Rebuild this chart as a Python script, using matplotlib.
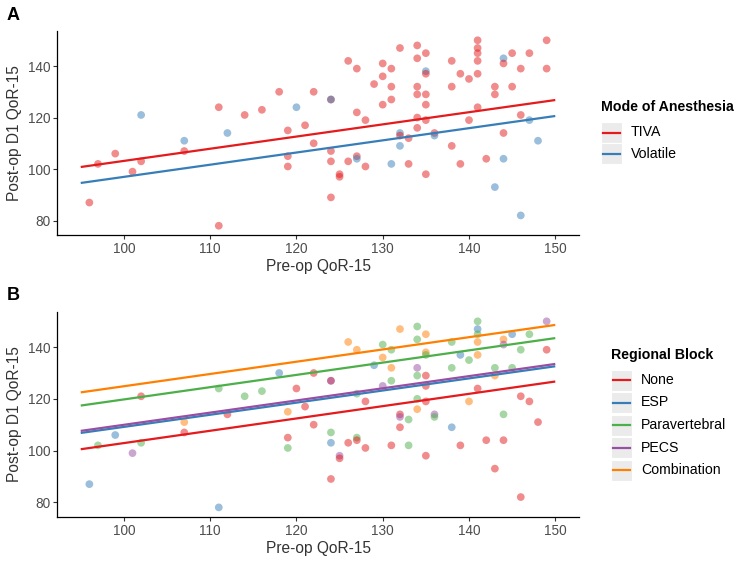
import matplotlib
matplotlib.use("Agg")
import matplotlib.pyplot as plt
from matplotlib.patches import Rectangle
from matplotlib.lines import Line2D
import numpy as np

plt.rcParams['font.family'] = ['Liberation Sans', 'DejaVu Sans']

# ---------------- data ----------------
pre_op = [96, 97, 99, 101, 102, 102, 107, 107, 111, 111, 112, 114, 116, 118,
          119, 119, 119, 120, 121, 122, 122, 124, 124, 124, 124, 124, 125, 125,
          126, 126, 127, 127, 127, 127, 128, 128, 129, 130, 130, 130, 131, 131,
          131, 131, 132, 132, 132, 132, 133, 133, 134, 134, 134, 134, 134, 134,
          135, 135, 135, 135, 135, 135, 135, 136, 136, 138, 138, 138, 139, 139,
          140, 140, 141, 141, 141, 141, 141, 141, 142, 143, 143, 143, 144, 144,
          144, 144, 145, 145, 146, 146, 146, 147, 147, 148, 149, 149]
post_op = [87, 102, 106, 99, 121, 103, 111, 107, 124, 78, 114, 121, 123, 130,
           115, 105, 101, 124, 117, 130, 110, 127, 127, 107, 103, 89, 98, 97,
           142, 103, 139, 122, 105, 104, 119, 101, 133, 141, 136, 125, 139, 132,
           127, 102, 147, 114, 113, 109, 112, 102, 148, 143, 132, 129, 120, 116,
           145, 138, 137, 129, 125, 119, 98, 114, 113, 142, 132, 109, 137, 102,
           135, 119, 150, 147, 145, 142, 137, 124, 104, 132, 129, 93, 143, 141,
           114, 104, 145, 132, 139, 121, 82, 145, 119, 111, 150, 139]
anesthesia = ['TIVA', 'TIVA', 'TIVA', 'TIVA', 'Volatile', 'TIVA', 'Volatile', 'TIVA',
              'TIVA', 'TIVA', 'Volatile', 'TIVA', 'TIVA', 'TIVA', 'TIVA', 'TIVA',
              'TIVA', 'Volatile', 'TIVA', 'TIVA', 'TIVA', 'TIVA', 'Volatile', 'TIVA',
              'TIVA', 'TIVA', 'TIVA', 'TIVA', 'TIVA', 'TIVA', 'TIVA', 'TIVA',
              'TIVA', 'Volatile', 'TIVA', 'TIVA', 'TIVA', 'TIVA', 'TIVA', 'TIVA',
              'TIVA', 'TIVA', 'TIVA', 'Volatile', 'TIVA', 'Volatile', 'TIVA', 'Volatile',
              'TIVA', 'TIVA', 'TIVA', 'TIVA', 'TIVA', 'TIVA', 'TIVA', 'TIVA',
              'TIVA', 'Volatile', 'TIVA', 'TIVA', 'TIVA', 'TIVA', 'TIVA', 'TIVA',
              'Volatile', 'TIVA', 'TIVA', 'TIVA', 'TIVA', 'TIVA', 'TIVA', 'TIVA',
              'TIVA', 'TIVA', 'TIVA', 'TIVA', 'TIVA', 'TIVA', 'TIVA', 'TIVA',
              'TIVA', 'Volatile', 'Volatile', 'TIVA', 'TIVA', 'Volatile', 'TIVA', 'TIVA',
              'TIVA', 'TIVA', 'Volatile', 'TIVA', 'Volatile', 'Volatile', 'TIVA', 'TIVA']
block = ['ESP', 'Paravertebral', 'ESP', 'PECS', 'None', 'Paravertebral', 'Combination', 'None',
         'Paravertebral', 'ESP', 'None', 'Paravertebral', 'Paravertebral', 'ESP', 'Combination', 'None',
         'Paravertebral', 'None', 'None', 'None', 'None', 'None', 'PECS', 'Paravertebral',
         'ESP', 'None', 'PECS', 'None', 'Combination', 'None', 'Combination', 'Paravertebral',
         'Paravertebral', 'None', 'None', 'None', 'ESP', 'Paravertebral', 'Combination', 'PECS',
         'Paravertebral', 'Combination', 'Paravertebral', 'None', 'Combination', 'None', 'PECS', 'None',
         'Paravertebral', 'Paravertebral', 'Paravertebral', 'Paravertebral', 'PECS', 'Paravertebral', 'Paravertebral', 'Combination',
         'Combination', 'Combination', 'Paravertebral', 'None', 'None', 'None', 'None', 'PECS',
         'Paravertebral', 'Paravertebral', 'Paravertebral', 'ESP', 'ESP', 'None', 'Paravertebral', 'Combination',
         'Paravertebral', 'ESP', 'Paravertebral', 'Combination', 'Combination', 'None', 'None', 'Paravertebral',
         'Combination', 'None', 'Combination', 'PECS', 'Paravertebral', 'None', 'ESP', 'Paravertebral',
         'Paravertebral', 'None', 'None', 'Paravertebral', 'None', 'None', 'PECS', 'None']

anesthesia_levels = ['TIVA', 'Volatile']
block_levels = ['None', 'ESP', 'Paravertebral', 'PECS', 'Combination']

# fitted (parallel-slope) model lines, value at pre-op 95 and 150
fit_x = [95, 150]
fit_anesthesia = {'TIVA': [100.8, 126.8], 'Volatile': [94.6, 120.6]}
fit_block = {'None': [100.5, 126.7], 'ESP': [106.8, 132.6],
             'Paravertebral': [117.4, 143.5], 'PECS': [107.6, 133.5],
             'Combination': [122.5, 148.6]}

x_ticks = [100, 110, 120, 130, 140, 150]
y_ticks = [80, 100, 120, 140]

# ---------------- styling ----------------
set1 = ['#E41A1C', '#377EB8', '#4DAF4A', '#984EA3', '#FF7F00']
W, H = 750, 563

fig = plt.figure(figsize=(7.5, 5.63), dpi=100)


def fx(x):
    return x / W


def fy(y):
    return 1 - y / H


def style_axes(ax):
    ax.set_xlim(92.25, 152.75)
    ax.set_ylim(74.4, 153.6)
    for s in ['top', 'right']:
        ax.spines[s].set_visible(False)
    for s in ['left', 'bottom']:
        ax.spines[s].set_linewidth(0.9)
        ax.spines[s].set_color('black')
    ax.set_xticks(x_ticks)
    ax.set_yticks(y_ticks)
    ax.tick_params(axis='both', length=3, width=0.8, color='#333333',
                   labelsize=9.8, labelcolor='#4D4D4D', pad=2)


def draw_panel(ax, groups, levels, fits):
    xs = np.array(pre_op)
    ys = np.array(post_op)
    cols = [set1[levels.index(v)] for v in groups]
    ax.scatter(xs, ys, s=31, c=cols, alpha=0.5, linewidths=0, zorder=2)
    for i, lev in enumerate(levels):
        ax.plot(fit_x, fits[lev], color=set1[i], lw=1.6, zorder=3,
                solid_capstyle='butt')
    style_axes(ax)


def draw_legend(title, levels, title_x, title_y, box_x, row_y, label_x):
    fig.text(fx(title_x), fy(title_y), title, fontsize=10.2, fontweight='bold',
             ha='left', va='center', color='black')
    bw, bh = 21, 21
    for i, lev in enumerate(levels):
        cy = row_y[i]
        fig.add_artist(Rectangle((fx(box_x), fy(cy + bh / 2)), bw / W, bh / H,
                                 transform=fig.transFigure, facecolor='#EBEBEB',
                                 edgecolor='white', lw=0.8))
        fig.add_artist(Line2D([fx(box_x + 2), fx(box_x + bw - 2)], [fy(cy), fy(cy)],
                              transform=fig.transFigure, color=set1[i], lw=1.6))
        fig.text(fx(label_x), fy(cy), lev, fontsize=10.2, ha='left', va='center',
                 color='black')


# Panel A
axA = fig.add_axes([fx(57), fy(235), 522 / W, 204 / H])
draw_panel(axA, anesthesia, anesthesia_levels, fit_anesthesia)
fig.text(fx(318), fy(266), 'Pre-op QoR-15', fontsize=11.2, ha='center', va='center', color='#333333')
fig.text(fx(15), fy(133), 'Post-op D1 QoR-15', fontsize=11.2, ha='center', va='center',
         rotation=90, color='#333333')
fig.text(fx(13), fy(16), 'A', fontsize=13, fontweight='bold', ha='center', va='center')
draw_legend('Mode of Anesthesia', anesthesia_levels, 601, 107, 601, [132.5, 154], 631)

# Panel B
axB = fig.add_axes([fx(57), fy(516.7), 522 / W, 204.7 / H])
draw_panel(axB, block, block_levels, fit_block)
fig.text(fx(318), fy(548), 'Pre-op QoR-15', fontsize=11.2, ha='center', va='center', color='#333333')
fig.text(fx(15), fy(414), 'Post-op D1 QoR-15', fontsize=11.2, ha='center', va='center',
         rotation=90, color='#333333')
fig.text(fx(13), fy(296), 'B', fontsize=13, fontweight='bold', ha='center', va='center')
draw_legend('Regional Block', block_levels, 611, 355, 611,
            [380, 402.5, 425, 447.5, 470], 641)

fig.savefig('out.png', dpi=100)
